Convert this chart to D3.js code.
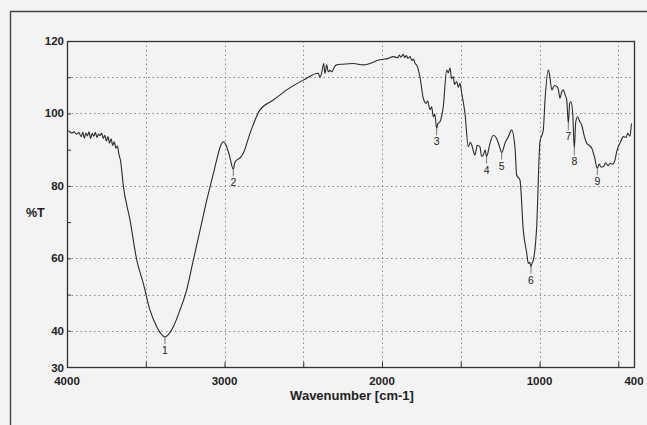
<!DOCTYPE html>
<html>
<head>
<meta charset="utf-8">
<script src="https://cdn.jsdelivr.net/npm/d3@7"></script>
<style>
html,body{margin:0;padding:0;background:#f3f3f3;}
svg{display:block;}
text{font-family:"Liberation Sans",Arial,sans-serif;fill:#222;}
</style>
</head>
<body>
<svg id="c" width="647" height="425"></svg>
<script>
// Spectrum (wavenumber cm-1, %T)
const wavenumbers = [4000,3985,3970,3955,3940,3925,3910,3900,3890,3880,3870,3860,3850,3840,3830,3820,3810,3800,3790,3780,3770,3760,3750,3740,3730,3720,3710,3700,3690,3680,3670,3660,3643,3600,3557,3515,3473,3430,3400,3378,3355,3325,3283,3240,3198,3155,3113,3070,3050,3027,3008,2990,2970,2944,2935,2923,2900,2881,2838,2775,2690,2605,2500,2404,2395,2383,2370,2362,2351,2341,2330,2319,2300,2288,2250,2182,2119,2013,1960,1928,1900,1890,1880,1865,1855,1845,1835,1822,1810,1800,1790,1780,1759,1738,1720,1710,1695,1685,1674,1665,1653,1645,1632,1611,1589,1580,1568,1558,1547,1540,1526,1515,1505,1494,1473,1452,1440,1430,1420,1410,1395,1378,1368,1357,1345,1336,1314,1293,1272,1255,1240,1219,1198,1177,1156,1145,1124,1103,1081,1071,1062,1054,1047,1039,1018,997,976,965,944,935,922,905,890,880,870,860,849,838,827,817,808,800,789,779,770,758,745,732,715,700,685,668,650,633,620,610,595,580,565,552,535,521,510,500,485,468,450,440,425,415,404];
const transmittance = [95.2,95.0,94.6,94.9,94.3,94.7,93.6,94.8,93.2,94.6,93.8,94.9,93.1,94.5,93.7,94.8,93.4,94.3,93.9,94.6,93.1,94.0,92.4,93.6,91.8,93.0,91.2,92.2,90.4,91.0,88.6,87.0,80.2,70.6,59.5,53.0,45.7,41.1,39.0,38.3,39.0,41.1,45.7,51.3,59.5,67.8,76.0,83.5,87.1,90.8,92.2,91.2,88.6,84.6,86.4,87.1,87.8,89.0,94.5,101.0,103.7,106.5,109.2,111.1,110.0,111.2,113.8,111.0,113.4,111.5,111.9,111.5,113.0,113.4,113.6,113.8,113.4,114.8,115.2,115.7,115.4,116.1,115.5,116.3,115.4,116.0,115.2,115.7,114.6,115.0,113.8,113.4,110.1,104.2,102.8,103.4,101.0,101.8,99.1,99.8,95.9,97.2,97.7,101.9,112.0,111.2,112.5,109.6,110.1,108.0,108.8,107.2,108.3,105.6,100.0,90.8,92.0,91.3,89.6,88.5,91.2,90.8,88.2,88.5,89.9,88.1,91.8,94.0,93.1,91.0,89.2,91.8,93.6,95.4,90.8,83.0,81.6,67.8,61.4,58.6,58.9,57.7,58.7,59.5,68.7,92.2,95.4,103.7,112.0,110.4,106.5,107.7,107.4,106.6,104.2,105.8,106.5,105.2,103.7,97.3,102.8,103.2,100.0,90.4,97.6,99.1,97.8,96.8,93.6,91.8,91.2,90.4,87.8,84.9,86.0,85.2,85.3,86.4,85.6,86.2,86.0,87.1,89.4,90.8,92.2,93.6,93.4,94.5,93.7,97.3];

// Peak labels
const peakNumbers = ["1","2","3","4","5","6","7","8","9"];
const peakWavenumbers = [3378,2944,1653,1336,1240,1054,817,779,633];
const peakValues = [38.3,84.6,95.9,88.1,89.2,57.7,97.3,90.4,84.9];

// Axes
const xTickLabels = [4000,3000,2000,1000,400];
const xTickMarks = [3500,3000,2500,2000,1500,1000,500];
const yTickLabels = [120,100,80,60,40,30];
const yTickMarks = [110,100,90,80,70,60,50,40];
const yGrid = [110,100,80,60,50,40];
const xGrid = [3500,3000,2500,2000,1500,1000,500];

const svg = d3.select("#c");
const L = 67, R = 634, T = 41, B = 367;
const x = d3.scaleLinear().domain([4000,400]).range([L,R]);
const y = d3.scaleLinear().domain([30,120]).range([B,T]);

// outer page frame
svg.append("path").attr("d","M10.5,425 L10.5,11.5 L647,11.5")
  .attr("fill","none").attr("stroke","#444").attr("stroke-width",1.4);

// grid
const g = svg.append("g");
g.selectAll(".hg").data(yGrid).join("line")
  .attr("x1",L).attr("x2",R).attr("y1",d=>Math.round(y(d))+0.5).attr("y2",d=>Math.round(y(d))+0.5)
  .attr("stroke","#888").attr("stroke-width",1).attr("stroke-dasharray","1.5,3");
g.selectAll(".vg").data(xGrid).join("line")
  .attr("y1",T).attr("y2",B).attr("x1",d=>Math.round(x(d))+0.5).attr("x2",d=>Math.round(x(d))+0.5)
  .attr("stroke","#888").attr("stroke-width",1).attr("stroke-dasharray","1.5,3");

// axes with inward ticks
const xAxis = d3.axisBottom(x).tickValues(xTickMarks).tickSize(-5).tickFormat("");
svg.append("g").attr("transform",`translate(0,${B})`).call(xAxis)
  .call(s=>{s.select(".domain").remove(); s.selectAll("line").attr("stroke","#333");});
const yAxis = d3.axisLeft(y).tickValues(yTickMarks).tickSize(-4).tickFormat("");
svg.append("g").attr("transform",`translate(${L},0)`).call(yAxis)
  .call(s=>{s.select(".domain").remove(); s.selectAll("line").attr("stroke","#333");});

svg.append("rect").attr("x",L+0.5).attr("y",T+0.5).attr("width",R-L).attr("height",B-T)
  .attr("fill","none").attr("stroke","#333").attr("stroke-width",1.3);

// tick labels
svg.selectAll(".yl").data(yTickLabels).join("text")
  .attr("x",L-3).attr("y",d=> d===30 ? y(d)+5 : y(d)+4)
  .attr("text-anchor","end").attr("font-size",11.5).attr("font-weight","bold")
  .text(d=>d);
svg.selectAll(".xl").data(xTickLabels).join("text")
  .attr("x",d=> d===4000 ? x(d) : x(d)).attr("y",B+18)
  .attr("text-anchor","middle").attr("font-size",11.5).attr("font-weight","bold")
  .text(d=>d);

svg.append("text").attr("x",352).attr("y",400).attr("text-anchor","middle")
  .attr("font-size",13).attr("font-weight","bold").text("Wavenumber [cm-1]");
svg.append("text").attr("x",26).attr("y",217).attr("font-size",12.5).attr("font-weight","bold").text("%T");

// spectrum
const data = wavenumbers.map((w,i)=>({w, t: transmittance[i]}));
const line = d3.line().x(d=>x(d.w)).y(d=>y(d.t)).curve(d3.curveMonotoneX);
svg.append("path").datum(data).attr("d",line)
  .attr("fill","none").attr("stroke","#2a2a2a").attr("stroke-width",1.1).attr("stroke-linejoin","round");

// peak markers
const peaks = peakNumbers.map((n,i)=>({n, w: peakWavenumbers[i], t: peakValues[i]}));
svg.selectAll(".pk").data(peaks).join("line")
  .attr("x1",d=>x(d.w)).attr("x2",d=>x(d.w)).attr("y1",d=>y(d.t)).attr("y2",d=>y(d.t)+7)
  .attr("stroke","#555").attr("stroke-width",0.8);
svg.selectAll(".pl").data(peaks).join("text")
  .attr("x",d=>x(d.w)).attr("y",d=>y(d.t)+17)
  .attr("text-anchor","middle").attr("font-size",10.5).text(d=>d.n);
</script>
</body>
</html>
